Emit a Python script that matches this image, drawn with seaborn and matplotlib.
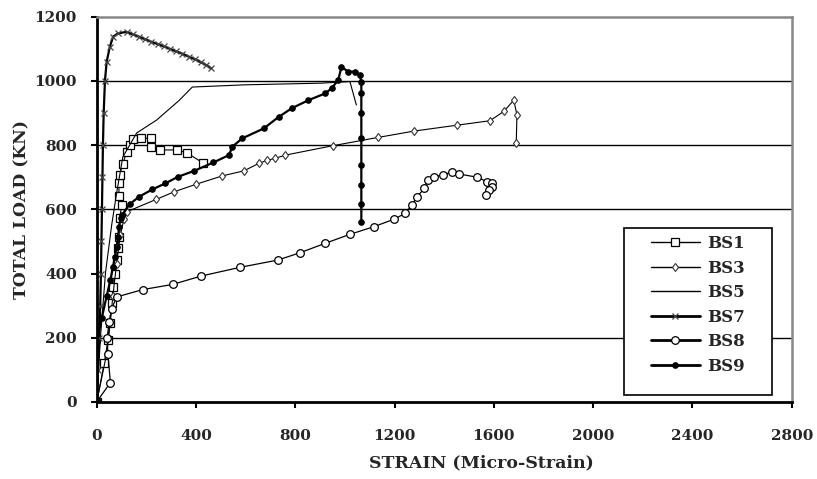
import numpy as np
import pandas as pd
import matplotlib
matplotlib.use("Agg")
import matplotlib.pyplot as plt
from matplotlib.patches import Rectangle
import seaborn as sns

# strain (micro-strain) and total load (kN)
BS1_STRAIN = [0, 30, 45, 53, 60, 66, 75, 80, 85, 89, 93, 100, 90, 89, 93, 104, 121, 133, 145,
              180, 220, 220, 253, 325, 365, 429]
BS1_LOAD = [0, 120, 192, 245, 308, 358, 400, 442, 480, 514, 572, 613, 640, 682, 707, 741, 778, 800, 819,
            822, 821, 795, 785, 785, 775, 744]

BS3_STRAIN = [0, 40, 55, 65, 80, 95, 110, 120, 240, 313, 400, 505, 593, 653, 687, 720, 760, 950,
              1133, 1280, 1450, 1584, 1640, 1680, 1693, 1690]
BS3_LOAD = [0, 150, 250, 330, 430, 520, 570, 592, 631, 655, 678, 704, 720, 743, 753, 759, 769, 798,
            824, 844, 862, 876, 905, 940, 894, 807]

BS5_STRAIN = [0, 15, 35, 60, 80, 105, 161, 241, 333, 385, 600, 900, 1020, 1046]
BS5_LOAD = [0, 200, 400, 550, 650, 763, 838, 878, 940, 981, 988, 993, 998, 925]

BS7_STRAIN = [0, 5, 10, 14, 17, 19, 21, 23, 25, 28, 33, 40, 53, 66, 85, 120, 145, 170, 195, 220,
              245, 270, 295, 320, 345, 370, 395, 420, 440, 460]
BS7_LOAD = [0, 100, 200, 300, 400, 500, 600, 700, 800, 900, 1000, 1060, 1107, 1138, 1148, 1153, 1145,
            1138, 1130, 1122, 1115, 1108, 1100, 1092, 1085, 1076, 1068, 1058, 1050, 1040]

BS8_STRAIN = [0, 55, 45, 42, 50, 60, 80, 186, 306, 420, 576, 730, 820, 920, 1020, 1117, 1197, 1242,
              1269, 1290, 1320, 1333, 1360, 1393, 1433, 1460, 1533, 1573, 1593, 1593, 1580, 1567]
BS8_LOAD = [0, 60, 150, 200, 250, 290, 327, 350, 366, 392, 419, 442, 465, 494, 522, 546, 569, 587,
            613, 639, 665, 691, 701, 707, 717, 710, 700, 686, 681, 670, 660, 644]

BS9_STRAIN = [0, 0, 20, 40, 55, 66, 73, 80, 86, 90, 96, 101, 133, 170, 224, 277, 326, 393, 470, 533,
              546, 586, 673, 733, 786, 853, 920, 946, 973, 986, 1013, 1040, 1060, 1066, 1066, 1066,
              1066, 1066, 1066, 1066, 1066]
BS9_LOAD = [0, 188, 260, 330, 380, 421, 452, 483, 514, 546, 572, 582, 616, 639, 662, 681, 701, 720,
            746, 769, 795, 821, 852, 888, 915, 940, 961, 977, 1003, 1044, 1029, 1029, 1018, 998, 961,
            899, 821, 738, 675, 618, 561]

X_TICKS = [0, 400, 800, 1200, 1600, 2000, 2400, 2800]
Y_TICKS = [0, 200, 400, 600, 800, 1000, 1200]
GRID_LEVELS = [200, 600, 800, 1000]   # the 400 line is not drawn in the original

sns.set_style("white")
plt.rcParams['font.family'] = ['DejaVu Serif']
plt.rcParams['font.weight'] = 'bold'

fig = plt.figure(figsize=(8.17, 4.79), dpi=100)
ax = fig.add_axes([0.1184, 0.161, 0.8507, 0.804])

for lvl in GRID_LEVELS:
    ax.axhline(lvl, color='black', lw=1.0, zorder=0)

styles = {
    'BS1': dict(marker='s', ms=5.5, mfc='white', mec='black', mew=0.9, lw=0.8),
    'BS3': dict(marker='d', ms=4.5, mfc='white', mec='#333333', mew=0.8, lw=0.8),
    'BS5': dict(marker=None, lw=0.8),
    'BS7': dict(marker='x', ms=5, mec='#444444', mew=0.9, lw=1.6),
    'BS8': dict(marker='o', ms=5.5, mfc='white', mec='black', mew=0.9, lw=0.9),
    'BS9': dict(marker='o', ms=4, mfc='black', mec='black', lw=1.6),
}
series = [
    ('BS1', BS1_STRAIN, BS1_LOAD),
    ('BS3', BS3_STRAIN, BS3_LOAD),
    ('BS5', BS5_STRAIN, BS5_LOAD),
    ('BS7', BS7_STRAIN, BS7_LOAD),
    ('BS8', BS8_STRAIN, BS8_LOAD),
    ('BS9', BS9_STRAIN, BS9_LOAD),
]

for name, xs, ys in series:
    df = pd.DataFrame({'strain': xs, 'load': ys})
    sns.lineplot(data=df, x='strain', y='load', sort=False, estimator=None,
                 color='black', label=name, ax=ax, **styles[name])

ax.set_xlim(0, 2800)
ax.set_ylim(0, 1200)
ax.set_xticks(X_TICKS)
ax.set_yticks(Y_TICKS)
ax.tick_params(axis='both', direction='out', length=4.3, width=1.5, labelsize=11,
               color='black', bottom=True, left=True)
ax.tick_params(axis='x', pad=15)
ax.tick_params(axis='y', pad=10)
for lab in ax.get_xticklabels() + ax.get_yticklabels():
    lab.set_fontweight('bold')

ax.set_xlabel("STRAIN (Micro-Strain)", fontsize=12.5, fontweight='bold')
ax.xaxis.set_label_coords(0.553, -0.136)
ax.set_ylabel("TOTAL LOAD (KN)", fontsize=12.3, fontweight='bold', labelpad=3)

for side in ['left', 'bottom']:
    ax.spines[side].set_color('black')
    ax.spines[side].set_linewidth(2)
for side in ['top', 'right']:
    ax.spines[side].set_color('#888888')
    ax.spines[side].set_linewidth(1.8)

# legend box drawn separately so the side padding can be wider than the top/bottom padding
ax.add_patch(Rectangle((0.7587, 0.017), 0.213, 0.434, transform=ax.transAxes,
                       facecolor='white', edgecolor='black', lw=1.2, zorder=5))
leg = ax.legend(loc='upper left', bbox_to_anchor=(0.7975, 0.433), frameon=False,
                fontsize=12, borderpad=0, labelspacing=0.45, handlelength=2.93,
                handletextpad=0.42, borderaxespad=0)
leg.set_zorder(6)
for t in leg.get_texts():
    t.set_fontweight('bold')
for line, lw in zip(leg.get_lines(), [1.0, 1.0, 1.0, 2.0, 2.0, 2.0]):
    line.set_linewidth(lw)

fig.savefig("out.png", dpi=100)
